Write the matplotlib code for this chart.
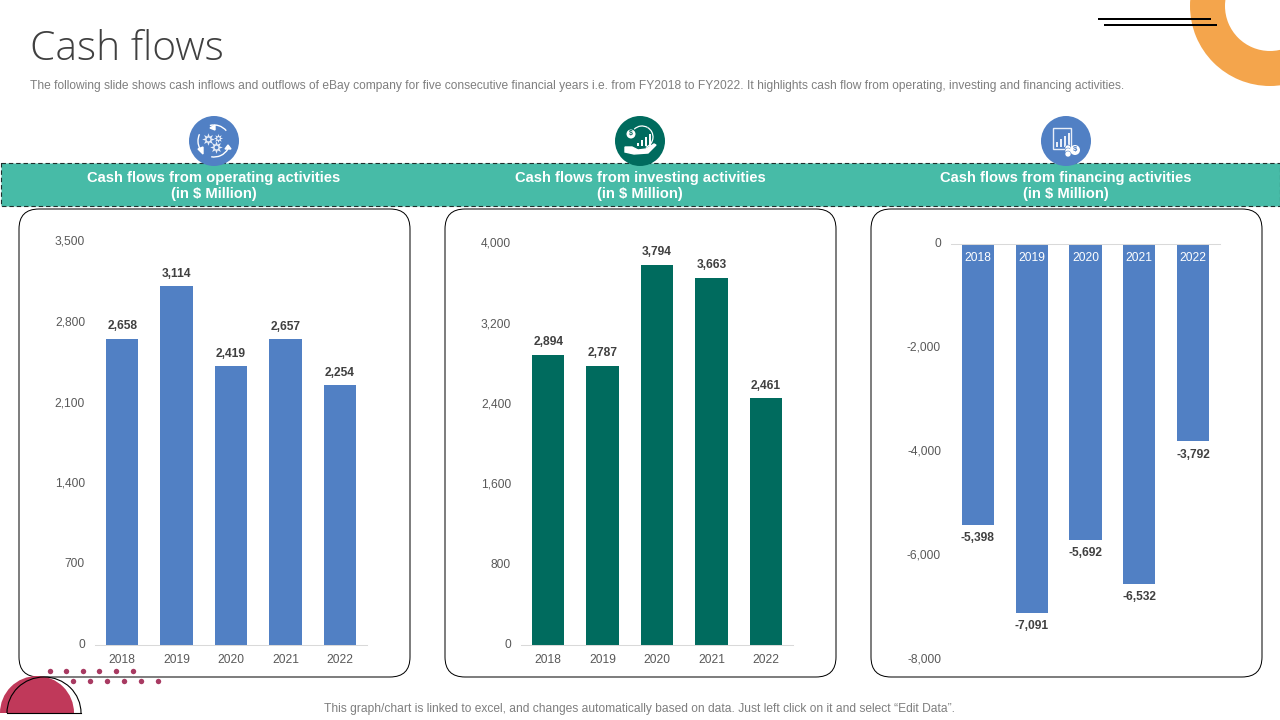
import matplotlib
matplotlib.use("Agg")
import matplotlib.pyplot as plt
from matplotlib.patches import Arc, Circle, FancyBboxPatch, Polygon, Rectangle, Wedge
from matplotlib.transforms import ScaledTranslation

plt.rcParams["font.family"] = ["Liberation Sans", "DejaVu Sans"]

years = ["2018", "2019", "2020", "2021", "2022"]
operating = [2658, 3114, 2419, 2657, 2254]
investing = [2894, 2787, 3794, 3663, 2461]
financing = [-5398, -7091, -5692, -6532, -3792]
operating_ticks = [0, 700, 1400, 2100, 2800, 3500]
investing_ticks = [0, 800, 1600, 2400, 3200, 4000]
financing_ticks = [0, -2000, -4000, -6000, -8000]
headers = ["Cash flows from operating activities\n(in $ Million)",
           "Cash flows from investing activities\n(in $ Million)",
           "Cash flows from financing activities\n(in $ Million)"]

BLUE = "#5180C4"
GREEN = "#006B5E"
TEAL = "#47BBA7"
GREY = "#595959"
PX = 0.72  # points per pixel at dpi 100

fig = plt.figure(figsize=(12.8, 7.2), dpi=100)
bg = fig.add_axes([0, 0, 1, 1])
bg.set_xlim(0, 1280)
bg.set_ylim(720, 0)
bg.axis("off")

# corner decoration
bg.add_patch(Wedge((1270, 6), 80, 0, 360, width=35, color="#F4A54C", lw=0, zorder=1))
bg.plot([1099, 1210], [19, 19], color="black", lw=2 * PX, zorder=2)
bg.plot([1105, 1216], [25, 25], color="black", lw=2 * PX, zorder=2)

fig.text(30 / 1280, 1 - 49 / 720, "Cash flows", family="Open Sans", fontsize=29.3, fontweight="light",
         color="#404040", va="center", ha="left")
fig.text(30 / 1280, 1 - 85.5 / 720,
         "The following slide shows cash inflows and outflows of eBay company for five consecutive "
         "financial years i.e. from FY2018 to FY2022. It highlights cash flow from operating, "
         "investing and financing activities.",
         fontsize=8.65, color="#7F7F7F", va="center", ha="left")

# header band
bg.add_patch(Rectangle((0.5, 163), 1279, 43, facecolor=TEAL, edgecolor="#1F2F2C",
                       lw=0.8, ls=(0, (4, 2.6)), zorder=1))

panel_left = [19, 445, 871]
for left in panel_left:
    bg.add_patch(FancyBboxPatch((left, 209), 391, 468,
                                boxstyle="round,pad=0,rounding_size=20",
                                facecolor="white", edgecolor="black", lw=0.72, zorder=1))

for cx, text in zip([214, 640, 1066], headers):
    bg.text(cx, 186, text, color="white", fontsize=10.6, fontweight="bold",
            ha="center", va="center", linespacing=1.22, zorder=3)


def gear(x, y, size):
    bg.plot([x], [y], marker=(8, 1, 0), ms=size, color="#E8EEF8", mew=0, zorder=5)
    bg.plot([x], [y], marker="o", ms=size * 0.3, color=BLUE, mew=0, zorder=6)


# operating icon
bg.add_patch(Circle((214, 141), 25, color=BLUE, lw=0, zorder=4))
gear(208, 139, 9)
gear(218, 138, 6.5)
gear(216, 147, 9)
bg.add_patch(Arc((214, 141), 32, 32, theta1=255, theta2=320, color="white", lw=1.0, zorder=5))
bg.add_patch(Arc((214, 141), 32, 32, theta1=150, theta2=205, color="white", lw=1.0, zorder=5))
bg.add_patch(Arc((214, 141), 32, 32, theta1=30, theta2=100, color="white", lw=1.0, zorder=5))
bg.add_patch(Polygon([[210, 128], [215, 125], [215, 130]], color="white", zorder=5))
bg.add_patch(Polygon([[225, 149], [231, 149], [228, 145]], color="white", zorder=5))
bg.add_patch(Polygon([[198, 149], [203, 147], [203, 154]], color="white", zorder=5))

# investing icon
bg.add_patch(Circle((640, 141), 25, color=GREEN, lw=0, zorder=4))
bg.add_patch(Polygon([[625, 147], [632, 147], [638, 150], [646, 149], [654, 144], [656, 145],
                      [648, 153], [634, 154], [625, 152]], color="white", zorder=5))
bg.add_patch(Circle((631, 134), 4.5, color="white", lw=0, zorder=5))
bg.text(631, 134, "$", color=GREEN, fontsize=5, fontweight="bold", ha="center", va="center", zorder=6)
for bx, bh in zip([637, 641, 645, 649], [3, 6, 9, 12]):
    bg.add_patch(Rectangle((bx, 146 - bh), 2.4, bh, color="white", lw=0, zorder=5))
bg.add_patch(Arc((642, 137), 22, 22, theta1=-60, theta2=70, color="white", lw=0.9, zorder=5))
bg.add_patch(Arc((642, 137), 22, 22, theta1=225, theta2=300, color="white", lw=0.9, zorder=5))

# financing icon
bg.add_patch(Circle((1066, 141), 25, color=BLUE, lw=0, zorder=4))
bg.add_patch(Rectangle((1053, 128), 18, 21, facecolor="none", edgecolor="#E8EEF8", lw=1.0, zorder=5))
for bx, bh in zip([1056, 1060, 1064, 1068], [5, 8, 11, 14]):
    bg.add_patch(Rectangle((bx, 147 - bh), 2.4, bh, color="#E8EEF8", lw=0, zorder=5))
for cy in [148, 151, 154]:
    bg.add_patch(Circle((1068, cy), 3, facecolor="white", edgecolor=BLUE, lw=0.4, zorder=5))
bg.add_patch(Circle((1075, 150), 5, color="white", lw=0, zorder=5))
bg.text(1075, 150, "$", color=BLUE, fontsize=5.5, fontweight="bold", ha="center", va="center", zorder=6)

# bottom left decoration
bg.add_patch(Wedge((37, 713), 37, 180, 360, color="#C0395A", lw=0, zorder=2))
bg.add_patch(Arc((44, 713), 74, 72, theta1=180, theta2=360, color="black", lw=0.8, zorder=3))
bg.plot([7, 81], [713, 713], color="black", lw=0.8, zorder=3)
bg.plot([50, 66, 83, 99, 116, 133], [671] * 6, "o", ms=3.9, color="#A83A62", mew=0, zorder=3)
bg.plot([73, 90, 107, 124, 141, 158], [681] * 6, "o", ms=3.9, color="#A83A62", mew=0, zorder=3)

fig.text(640 / 1280, 1 - 709 / 720,
         "This graph/chart is linked to excel, and changes automatically based on data. "
         "Just left click on it and select \u201cEdit Data\u201d.",
         fontsize=8.65, color="#7F7F7F", va="center", ha="center")


def chart(left, right, top, bottom, values, ticks, color, ymin, ymax):
    ax = fig.add_axes([left / 1280, 1 - bottom / 720, (right - left) / 1280, (bottom - top) / 720])
    ax.patch.set_visible(False)
    ax.bar(years, values, width=0.595, color=color)
    ax.set_xlim(-0.5, 4.5)
    ax.set_ylim(ymin, ymax)
    ax.set_yticks(ticks)
    ax.set_yticklabels([f"{t:,}" for t in ticks])
    ax.tick_params(length=0, labelsize=8.64, labelcolor=GREY)
    ax.tick_params(axis="y", pad=10 * PX)
    ax.tick_params(axis="x", pad=9 * PX)
    # tick text sits a little high in the original
    up = ScaledTranslation(0, 1.5 * PX / 72, fig.dpi_scale_trans)
    for lbl in ax.get_yticklabels():
        lbl.set_transform(lbl.get_transform() + up)
    for s in ["top", "left", "right"]:
        ax.spines[s].set_visible(False)
    ax.spines["bottom"].set_color("#D9D9D9")
    ax.spines["bottom"].set_linewidth(0.75)
    return ax


def value_labels(ax, values, offset):
    for i, v in enumerate(values):
        ax.annotate(f"{v:,}", (i, v), xytext=(0, offset * PX), textcoords="offset points",
                    ha="center", va="center", fontsize=8.64, fontweight="bold", color="#404040")


ax1 = chart(95, 367, 242, 645, operating, operating_ticks, BLUE, 0, 3500)
value_labels(ax1, operating, 12.5)

ax2 = chart(521, 793, 244, 645, investing, investing_ticks, GREEN, 0, 4000)
value_labels(ax2, investing, 12.5)

ax3 = chart(951, 1220, 243.7, 660, financing, financing_ticks, BLUE, -8000, 0)
value_labels(ax3, financing, -13.5)
ax3.spines["bottom"].set_visible(False)
ax3.spines["top"].set_visible(True)
ax3.spines["top"].set_color("#D9D9D9")
ax3.spines["top"].set_linewidth(0.75)
ax3.set_xticks(range(5))
ax3.set_xticklabels([])
for i, year in enumerate(years):
    ax3.annotate(year, (i, 0), xytext=(0, -14.5 * PX), textcoords="offset points",
                 ha="center", va="center", fontsize=8.64, color="white")

fig.savefig("out.png", dpi=100)
